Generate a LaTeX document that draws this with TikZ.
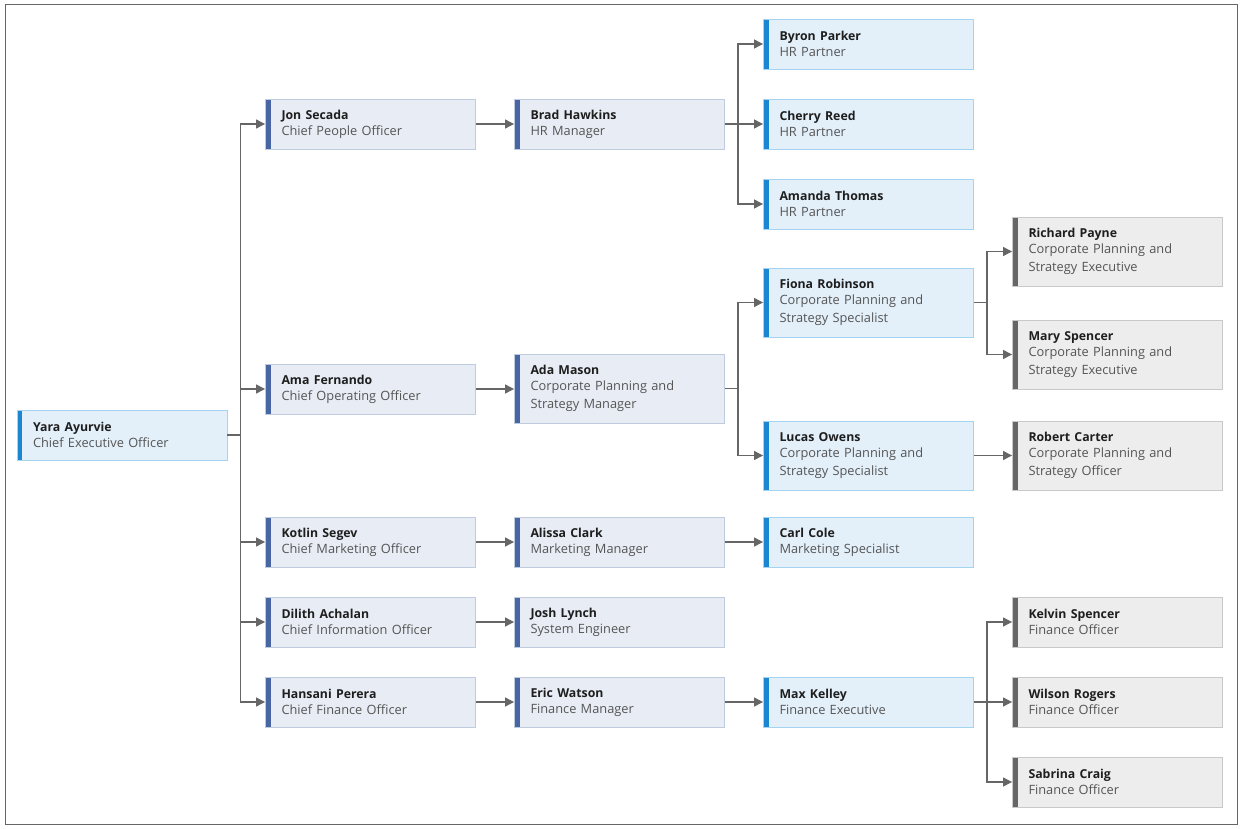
\documentclass[tikz,border=0pt]{standalone}
\usepackage{fontspec}
\setmainfont{Open Sans}
\usetikzlibrary{arrows.meta}
\definecolor{bluefill}{HTML}{E3F0FA}
\definecolor{blueedge}{HTML}{A5D3F2}
\definecolor{bluebar}{HTML}{1B87D3}
\definecolor{navyfill}{HTML}{E8EDF5}
\definecolor{navyedge}{HTML}{BFCCE0}
\definecolor{navybar}{HTML}{4766A3}
\definecolor{grayfill}{HTML}{EDEDED}
\definecolor{grayedge}{HTML}{C9C9C9}
\definecolor{graybar}{HTML}{666666}
\definecolor{linec}{HTML}{666666}
\definecolor{namec}{HTML}{1E1E1E}
\definecolor{rolec}{HTML}{555555}
\tikzset{
  card/.style={rectangle, draw=#1edge, fill=#1fill, line width=0.9pt,
    minimum width=210pt, minimum height=50pt, text width=178pt, inner xsep=16pt,
    align=left, font=\fontsize{12.8}{17.5}\selectfont, text=rolec,
    path picture={\fill[#1bar] (path picture bounding box.north west) rectangle ([xshift=5pt]path picture bounding box.south west);}},
  tall/.style={minimum height=69pt},
  conn/.style={draw=linec, line width=1.2pt, -{Triangle[length=9pt,width=9pt]}},
  plain/.style={draw=linec, line width=1.2pt}
}
\newcommand{\nm}[1]{{\fontsize{12.3}{16}\selectfont\bfseries\color{namec}#1}\\[-1.5pt]}
\begin{document}
\begin{tikzpicture}[x=1pt,y=-1pt]
\useasboundingbox (0,0) rectangle (1242,829);
\fill[white] (0,0) rectangle (1242,829);
\draw[draw=linec, line width=1pt] (5,5) rectangle (1237,824);

\node[card=blue] (yara) at (122,435) {\nm{Yara Ayurvie}Chief Executive Officer};

\node[card=navy] (jon) at (370.5,124) {\nm{Jon Secada}Chief People Officer};
\node[card=navy] (ama) at (370.5,389) {\nm{Ama Fernando}Chief Operating Officer};
\node[card=navy] (kotlin) at (370.5,542) {\nm{Kotlin Segev}Chief Marketing Officer};
\node[card=navy] (dilith) at (370.5,622) {\nm{Dilith Achalan}Chief Information Officer};
\node[card=navy] (hansani) at (370.5,702) {\nm{Hansani Perera}Chief Finance Officer};

\node[card=navy] (brad) at (619.5,124) {\nm{Brad Hawkins}HR Manager};
\node[card=navy,tall] (ada) at (619.5,388.5) {\nm{Ada Mason}Corporate Planning and\\Strategy Manager};
\node[card=navy] (alissa) at (619.5,542) {\nm{Alissa Clark}Marketing Manager};
\node[card=navy] (josh) at (619.5,622) {\nm{Josh Lynch}System Engineer};
\node[card=navy] (eric) at (619.5,702) {\nm{Eric Watson}Finance Manager};

\node[card=blue] (byron) at (868.5,44) {\nm{Byron Parker}HR Partner};
\node[card=blue] (cherry) at (868.5,124) {\nm{Cherry Reed}HR Partner};
\node[card=blue] (amanda) at (868.5,204) {\nm{Amanda Thomas}HR Partner};
\node[card=blue,tall] (fiona) at (868.5,302.5) {\nm{Fiona Robinson}Corporate Planning and\\Strategy Specialist};
\node[card=blue,tall] (lucas) at (868.5,455.5) {\nm{Lucas Owens}Corporate Planning and\\Strategy Specialist};
\node[card=blue] (carl) at (868.5,542) {\nm{Carl Cole}Marketing Specialist};
\node[card=blue] (max) at (868.5,702) {\nm{Max Kelley}Finance Executive};

\node[card=gray,tall] (richard) at (1117.5,251.5) {\nm{Richard Payne}Corporate Planning and\\Strategy Executive};
\node[card=gray,tall] (mary) at (1117.5,354.5) {\nm{Mary Spencer}Corporate Planning and\\Strategy Executive};
\node[card=gray,tall] (robert) at (1117.5,455.5) {\nm{Robert Carter}Corporate Planning and\\Strategy Officer};
\node[card=gray] (kelvin) at (1117.5,622) {\nm{Kelvin Spencer}Finance Officer};
\node[card=gray] (wilson) at (1117.5,702) {\nm{Wilson Rogers}Finance Officer};
\node[card=gray] (sabrina) at (1117.5,782) {\nm{Sabrina Craig}Finance Officer};

% CEO bus
\coordinate (b0) at ([xshift=13pt]yara.east);
\draw[plain] (yara.east) -- (b0);
\foreach \c in {jon,ama,kotlin,dilith,hansani} \draw[conn] (b0) |- (\c.west);

\draw[conn] (jon) -- (brad);
\draw[conn] (ama) -- (ama -| ada.west);
\draw[conn] (kotlin) -- (alissa);
\draw[conn] (dilith) -- (josh);
\draw[conn] (hansani) -- (eric);

\coordinate (b1) at ([xshift=13pt]brad.east);
\draw[plain] (brad.east) -- (b1);
\foreach \c in {byron,cherry,amanda} \draw[conn] (b1) |- (\c.west);

\coordinate (b2) at ([xshift=13pt]ada.east);
\draw[plain] (ada.east) -- (b2);
\foreach \c in {fiona,lucas} \draw[conn] (b2) |- (\c.west);

\draw[conn] (alissa) -- (carl);
\draw[conn] (eric) -- (max);
\draw[conn] (lucas) -- (robert);

\coordinate (b3) at ([xshift=13pt]fiona.east);
\draw[plain] (fiona.east) -- (b3);
\foreach \c in {richard,mary} \draw[conn] (b3) |- (\c.west);

\coordinate (b4) at ([xshift=13pt]max.east);
\draw[plain] (max.east) -- (b4);
\foreach \c in {kelvin,wilson,sabrina} \draw[conn] (b4) |- (\c.west);
\end{tikzpicture}
\end{document}
